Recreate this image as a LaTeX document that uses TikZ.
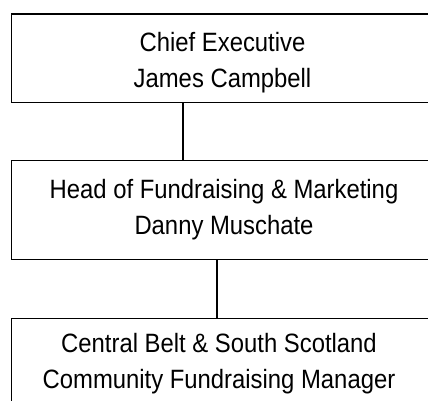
\documentclass[tikz,border=0pt]{standalone}
\usepackage{fontspec}
\newfontfamily\boxfont[FakeStretch=0.9]{Liberation Sans}
\begin{document}
\begin{tikzpicture}[x=1pt,y=1pt,
  boxtext/.style={align=center, inner sep=0pt, anchor=north,
    font=\boxfont\fontsize{26.5}{32}\selectfont},
  orgbox/.style={draw=black, line width=1.3pt, minimum width=421pt, inner sep=0pt},
  link/.style={draw=black, line width=2pt}]
\useasboundingbox (0,0) rectangle (428,-401);
\clip (0,0) rectangle (428,-401);
\node[orgbox, minimum height=88.5pt] (b1) at (222,-58.25) {};
\node[orgbox, minimum height=99pt] (b2) at (222,-210) {};
\node[orgbox, minimum height=100pt, anchor=north] (b3) at (222,-318) {};
\node[boxtext] (t1) at (222.5,-31.6) {Chief Executive\\[4.5pt]James Campbell};
\node[boxtext] (t2) at (224,-178.6) {Head of Fundraising \& Marketing\\[4.5pt]Danny Muschate};
\node[boxtext] (t3) at (219,-332.6) {Central Belt \& South Scotland\\[4.5pt]Community Fundraising Manager};
\draw[link] ([xshift=-39.3pt]b1.south) -- ([xshift=-39.3pt]b2.north);
\draw[link] ([xshift=-5.3pt]b2.south) -- ([xshift=-5.3pt]b3.north);
\end{tikzpicture}
\end{document}
